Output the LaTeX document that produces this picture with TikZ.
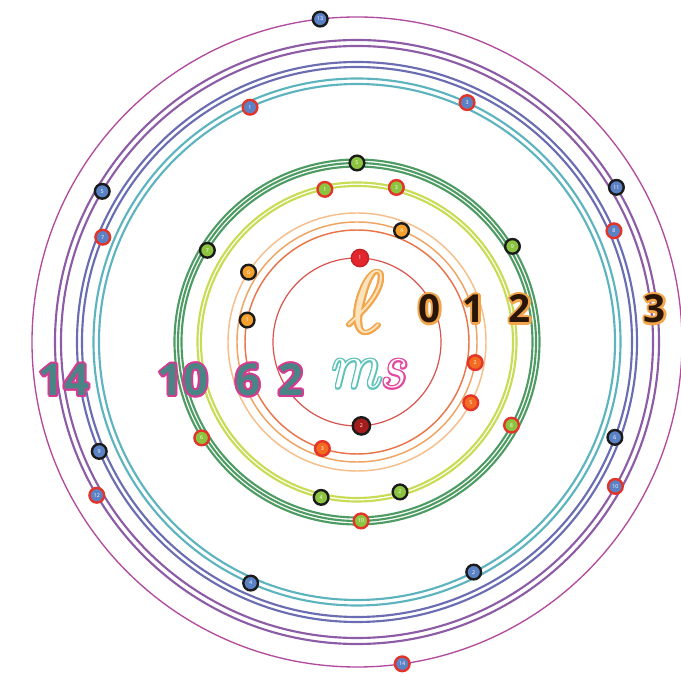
\documentclass[tikz,border=0pt]{standalone}
\usepackage{fontspec}
\setsansfont{Open Sans}
\definecolor{sring}{HTML}{D9534F}
\definecolor{pringA}{HTML}{E8764A}
\definecolor{pringB}{HTML}{F0A463}
\definecolor{pringC}{HTML}{F6BE8A}
\definecolor{dringY}{HTML}{C9DC55}
\definecolor{dringG}{HTML}{4E9C64}
\definecolor{fringT}{HTML}{5DB4BF}
\definecolor{fringV}{HTML}{6B6DB2}
\definecolor{fringP}{HTML}{8C5CA6}
\definecolor{fringM}{HTML}{B24A9E}
\definecolor{ffill}{HTML}{5C82C6}
\definecolor{dfill}{HTML}{8CC43F}
\definecolor{pfill}{HTML}{F4A12E}
\definecolor{pdeep}{HTML}{F26B21}
\definecolor{sfill}{HTML}{E3262B}
\definecolor{sdark}{HTML}{A51C1C}
\definecolor{upline}{HTML}{1B1B1B}
\definecolor{downline}{HTML}{E3342A}
\definecolor{numfill}{HTML}{4A8585}
\definecolor{numedge}{HTML}{D63A92}
\definecolor{lglow}{HTML}{F2A54A}
\definecolor{lfill}{HTML}{2A1608}
\definecolor{ellfill}{HTML}{FBE3BE}
\definecolor{msteal}{HTML}{5CC3BA}
\definecolor{mspink}{HTML}{E4479F}
%% text with a coloured rim: rim width, rim colour, fill colour, text
\newcommand\halotext[4]{%
  \foreach \hdir in {0,30,...,330}{%
    \pgfmathsetlengthmacro\hdx{#1*cos(\hdir)}%
    \pgfmathsetlengthmacro\hdy{#1*sin(\hdir)}%
    \rlap{\kern\hdx\raisebox{\hdy}{\textcolor{#2}{#4}}}}%
  \textcolor{#3}{#4}}
\tikzset{
  elec/.style={circle, minimum size=11pt, inner sep=0pt, line width=1.8pt,
               text=white, font=\fontsize{4}{4}\selectfont\sffamily},
  fup/.style={elec, fill=ffill, draw=upline},
  fdown/.style={elec, fill=ffill, draw=downline},
  dup/.style={elec, fill=dfill, draw=upline},
  ddown/.style={elec, fill=dfill, draw=downline},
  pup/.style={elec, fill=pfill, draw=upline},
  pdown/.style={elec, fill=pdeep, draw=downline},
  sup/.style={elec, minimum size=13pt, fill=sfill, draw=sfill!85!black, line width=1pt},
  sdown/.style={elec, minimum size=13pt, fill=sdark, draw=upline},
  numlbl/.style={font=\sffamily\bfseries\fontsize{33}{33}\selectfont, anchor=base, inner sep=0pt},
  lnum/.style={font=\sffamily\bfseries\fontsize{29}{29}\selectfont, anchor=base, inner sep=0pt},
}

\begin{document}
\begin{tikzpicture}[x=0.75pt, y=0.75pt]
  \fill[white] (-357,-338) rectangle (324,342);
  \useasboundingbox (-357,-338) rectangle (324,342);

  %% Subshell rings (one per orbital)
  \draw[sring, line width=0.9pt] (0,0) circle[radius=84];
  \foreach \r/\c in {112/pringA, 120/pringB, 129/pringC}
    \draw[\c, line width=1.1pt] (0,0) circle[radius=\r];
  \foreach \r/\c in {156/dringY, 159.5/dringY, 175.5/dringG, 179/dringG, 182.5/dringG}
    \draw[\c, line width=1.6pt] (0,0) circle[radius=\r];
  \foreach \r/\c in {258/fringT, 263.5/fringT, 275/fringV, 280/fringV, 296/fringP, 302/fringP}
    \draw[\c, line width=1.6pt] (0,0) circle[radius=\r];
  \draw[fringM, line width=1pt] (0,0) circle[radius=325];

  %% Electrons: angle/radius/spin/number
  \foreach \a/\r/\spin/\n in {88/84/sup/1, 273/84/sdown/2}
    \node[\spin] (s\n) at (\a:\r) {\n};
  \foreach \a/\r/\spin/\n in {
    168.7/112/pup/1, 252/112/pdown/3, 68.2/120/pup/4,
    350.1/120/pdown/2, 147.2/129/pup/6, 331.9/129/pdown/5}
    \node[\spin] (p\n) at (\a:\r) {\n};
  \foreach \a/\r/\spin/\n in {
    101.9/156/ddown/1, 286/156/dup/2, 75.7/159.5/ddown/3, 257/159.5/dup/4,
    148.5/175.5/dup/7, 331.7/175.5/ddown/8, 90/179/dup/5, 271.3/179/ddown/10,
    31.6/182.5/dup/9, 211.7/182.5/ddown/6}
    \node[\spin] (d\n) at (\a:\r) {\n};
  \foreach \a/\r/\spin/\n in {
    114.5/258/fdown/1, 296.9/258/fup/2, 65.3/263.5/fdown/3, 246.2/263.5/fup/4,
    157.6/275/fdown/7, 339.7/275/fup/6, 23.4/280/fdown/8, 203/280/fup/9,
    149.4/296/fup/5, 330.8/296/fdown/10, 30.8/302/fup/11, 210.5/302/fdown/12,
    96.5/325/fup/13, 278/325/fdown/14}
    \node[\spin] (f\n) at (\a:\r) {\n};

  %% Orbital counts
  \foreach \x/\lbl in {-293/14, -174/10, -109/6, -66/2}
    \node[numlbl] (n\lbl) at (\x,-54) {\halotext{1.5pt}{numedge}{numfill}{\lbl}};
  \node[anchor=base, inner sep=0pt] (ms) at (10,-46)
    {\fontsize{48}{48}\selectfont\itshape\halotext{1.2pt}{msteal}{white}{m}\halotext{1.2pt}{mspink}{white}{s}};

  %% Quantum number l
  \node[anchor=base, inner sep=0pt] (ell) at (9,9)
    {\scalebox{6.6}{\halotext{0.22pt}{lglow}{ellfill}{$\ell$}}};
  \foreach \x/\lbl in {73/0, 117/1, 163/2, 298/3}
    \node[lnum] (l\lbl) at (\x,19) {\halotext{1.6pt}{lglow}{lfill}{\lbl}};
\end{tikzpicture}
\end{document}
